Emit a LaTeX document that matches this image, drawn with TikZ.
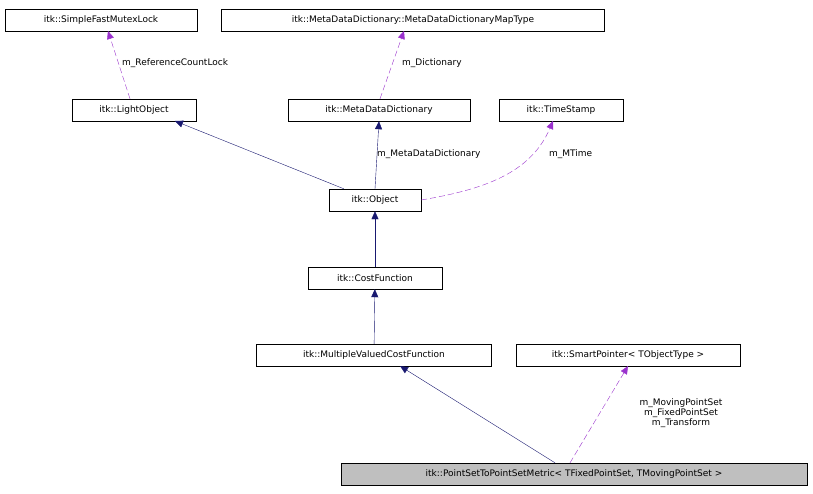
\documentclass[tikz,border=0pt]{standalone}
\usepackage{fontspec}
\setmainfont{DejaVu Sans}
\usetikzlibrary{arrows.meta}
\tikzset{
  cls/.style={draw, fill=white, inner sep=0pt, minimum height=22pt, font=\fontsize{9}{10}\selectfont},
  inherit/.style={draw=midnightblue, -{Triangle[length=8pt,width=7pt,fill=midnightblue]}},
  uses/.style={draw=violet, dashed, dash pattern=on 6pt off 3pt, -{Triangle[length=8pt,width=7pt,fill=violet]}},
  lbl/.style={font=\fontsize{9}{10}\selectfont, inner sep=1pt}
}
\definecolor{midnightblue}{RGB}{25,25,112}
\definecolor{violet}{RGB}{154,50,205}
\begin{document}
\begin{tikzpicture}[x=1pt,y=-1pt]
\useasboundingbox (0,0) rectangle (813,493);
% classes
\node[cls, minimum width=192pt] (lock) at (101,20) {itk::SimpleFastMutexLock};
\node[cls, minimum width=383pt] (map) at (413,20) {itk::MetaDataDictionary::MetaDataDictionaryMapType};
\node[cls, minimum width=124pt] (light) at (134,110) {itk::LightObject};
\node[cls, minimum width=182pt] (dict) at (379,110) {itk::MetaDataDictionary};
\node[cls, minimum width=124pt] (stamp) at (561,110) {itk::TimeStamp};
\node[cls, minimum width=92pt] (object) at (375,200) {itk::Object};
\node[cls, minimum width=134pt] (cost) at (375,278) {itk::CostFunction};
\node[cls, minimum width=235pt] (multi) at (374,355) {itk::MultipleValuedCostFunction};
\node[cls, minimum width=224pt] (smart) at (628,355) {itk::SmartPointer< TObjectType >};
\node[cls, minimum width=466pt, fill=black!25] (metric) at (574,474) {itk::PointSetToPointSetMetric< TFixedPointSet, TMovingPointSet >};
% inheritance
\draw[inherit] (object.north west) ++(15,0) -- (175,121);
\draw[inherit] (object.north) -- (dict.south);
\draw[uses] (light.north) ++(-4,0) -- (108,31);
\draw[uses] (dict.north) ++(1,0) -- (404,31);
\draw[inherit] (cost) -- (object);
\draw[inherit] (multi) -- (cost);
\draw[inherit] (metric.north) ++(-19,0) -- (400,366);
\draw[uses] (metric.north) ++(-4,0) -- (628,366);
\draw[uses] (object.east) .. controls (480,190) and (530,175) .. (553,121);
% labels
\node[lbl, anchor=west] (l1) at (121,63) {m\_ReferenceCountLock};
\node[lbl, anchor=west] (l2) at (401,63) {m\_Dictionary};
\node[lbl, anchor=west] (l3) at (376,154) {m\_MetaDataDictionary};
\node[lbl, anchor=west] (l4) at (548,154) {m\_MTime};
\node[lbl, align=center] (l5) at (681,413) {m\_MovingPointSet\\m\_FixedPointSet\\m\_Transform};
\end{tikzpicture}
\end{document}
